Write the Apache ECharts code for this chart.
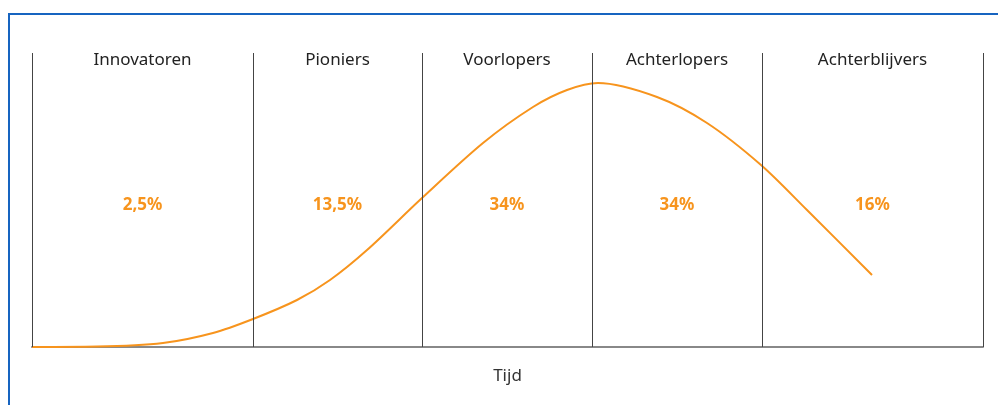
<!DOCTYPE html>
<html>
<head>
<meta charset="utf-8">
<script src="https://cdn.jsdelivr.net/npm/echarts@6/dist/echarts.min.js"></script>
<style>
  html, body { margin: 0; padding: 0; background: #fff; }
  #chart { width: 998px; height: 405px; }
</style>
</head>
<body>
<div id="chart"></div>
<script>
// fasegrenzen op de tijdas
var grenzen = [0, 221, 390, 560, 730, 951];
var fasen = ['Innovatoren', 'Pioniers', 'Voorlopers', 'Achterlopers', 'Achterblijvers'];
var aandelen = ['2,5%', '13,5%', '34%', '34%', '16%'];

// adoptiecurve (tijd, aantal)
var curveX = [0, 65, 131, 181, 221, 265, 298, 335, 390, 451, 501, 535, 566, 625, 675, 729, 775, 840];
var curveY = [0, 0.4, 4, 14, 28, 47, 67, 97, 149, 204, 240, 257, 264, 250, 224, 182, 137, 72];

var yMax = 294;
var oranje = '#f7941d';

var myChart = echarts.init(document.getElementById('chart'));

var curve = curveX.map(function (x, i) { return [x, curveY[i]]; });
var midden = fasen.map(function (f, i) { return (grenzen[i] + grenzen[i + 1]) / 2; });

myChart.setOption({
    animation: false,
    graphic: [{
        type: 'rect',
        shape: { x: 9, y: 14, width: 1200, height: 600 },
        style: { fill: 'none', stroke: '#1764c0', lineWidth: 2 }
    }],
    grid: { left: 32, right: 15, top: 53, bottom: 58 },
    xAxis: {
        type: 'value',
        min: 0,
        max: 951,
        name: 'Tijd',
        nameLocation: 'middle',
        nameGap: 21,
        nameTextStyle: { color: '#333', fontSize: 17, fontFamily: 'Noto Sans' },
        axisLine: { lineStyle: { color: '#888', width: 2 } },
        axisTick: { show: false },
        axisLabel: { show: false },
        splitLine: { show: false }
    },
    yAxis: {
        type: 'value',
        min: 0,
        max: yMax,
        show: false
    },
    series: [{
        type: 'line',
        data: curve,
        smooth: 0.3,
        showSymbol: false,
        lineStyle: { color: oranje, width: 2 },
        z: 3,
        markLine: {
            silent: true,
            symbol: 'none',
            label: { show: false },
            lineStyle: { color: '#444', width: 1, type: 'solid', opacity: 1 },
            data: grenzen.map(function (g) { return { xAxis: g }; })
        }
    }, {
        type: 'scatter',
        symbolSize: 0,
        itemStyle: { opacity: 1 },
        data: fasen.map(function (f, i) { return { name: f, value: [midden[i], 287] }; }),
        label: {
            show: true,
            position: 'inside',
            formatter: '{b}',
            color: '#222',
            fontSize: 17,
            fontFamily: 'Noto Sans'
        }
    }, {
        type: 'scatter',
        symbolSize: 0,
        itemStyle: { opacity: 1 },
        data: aandelen.map(function (a, i) { return { name: a, value: [midden[i], 142] }; }),
        label: {
            show: true,
            position: 'inside',
            formatter: '{b}',
            color: oranje,
            fontSize: 17,
            fontWeight: 'bold',
            fontFamily: 'Noto Sans'
        }
    }]
});
</script>
</body>
</html>
